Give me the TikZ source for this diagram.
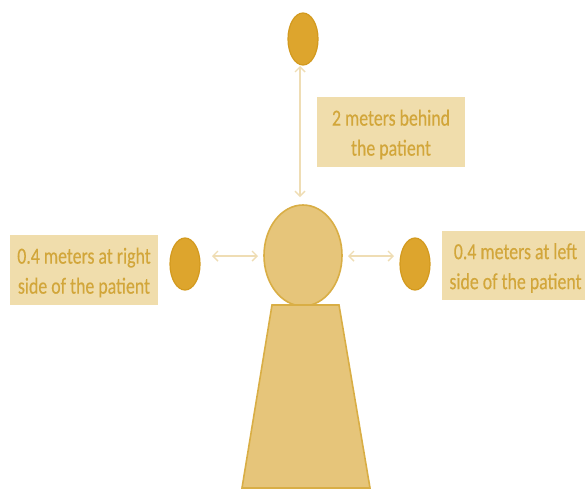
\documentclass[tikz,border=0pt]{standalone}
\usepackage{fontspec}
\setmainfont[FakeStretch=0.775,FakeBold=0.3]{Carlito}
\usetikzlibrary{shapes.geometric,arrows.meta}
\definecolor{bodyfill}{HTML}{E6C57A}
\definecolor{edgegold}{HTML}{D9AE45}
\definecolor{dotfill}{HTML}{DDA52D}
\definecolor{dotedge}{HTML}{D39A1E}
\definecolor{boxfill}{HTML}{F0DDAC}
\definecolor{boxtext}{HTML}{D2A63A}
\definecolor{arrowcol}{HTML}{EFDDB4}
\tikzset{
  dot/.style={ellipse,draw=dotedge,fill=dotfill,line width=1.2pt,minimum width=30pt,minimum height=52pt,inner sep=0pt},
  labelbox/.style={fill=boxfill,minimum width=148pt,minimum height=70pt},
  labeltext/.style={text=boxtext,align=center,inner sep=0pt,yshift=-2.5pt,font=\fontsize{23}{30}\selectfont},
  dim/.style={draw=arrowcol,line width=1.4pt,{Straight Barb[length=5pt,width=10pt]}-{Straight Barb[length=5pt,width=10pt]}},
  figure/.style={draw=edgegold,fill=bodyfill,line width=1.6pt}
}
\begin{document}
\begin{tikzpicture}[x=1pt,y=-1pt]
\useasboundingbox (0,0) rectangle (585,488);
\fill[white] (0,0) rectangle (585,488);
\node[figure,ellipse,minimum width=78pt,minimum height=101pt,inner sep=0pt] (head) at (303,255.5) {};
\draw[figure] (272,305) -- (339,305) -- (370,488) -- (242,488) -- cycle;
\node[dot] (top) at (303,39) {};
\node[dot] (left) at (185,264) {};
\node[dot] (right) at (415,264) {};
\node[labelbox,label={[labeltext]center:{2 meters behind\\the patient}}] (tb) at (391,132) {};
\node[labelbox,label={[labeltext]center:{0.4 meters at right\\side of the patient}}] (lb) at (84,270) {};
\node[labelbox,minimum width=143pt,minimum height=69pt,label={[labeltext,xshift=2pt]center:{0.4 meters at left\\side of the patient}}] (rb) at (513.5,265.5) {};
\coordinate (t1) at (300,66); \coordinate (t2) at (300,197);
\coordinate (l1) at (212,256); \coordinate (l2) at (258,256);
\coordinate (r1) at (348,256); \coordinate (r2) at (394,256);
\draw[dim] (t1) -- (t2);
\draw[dim] (l1) -- (l2);
\draw[dim] (r1) -- (r2);
\end{tikzpicture}
\end{document}
